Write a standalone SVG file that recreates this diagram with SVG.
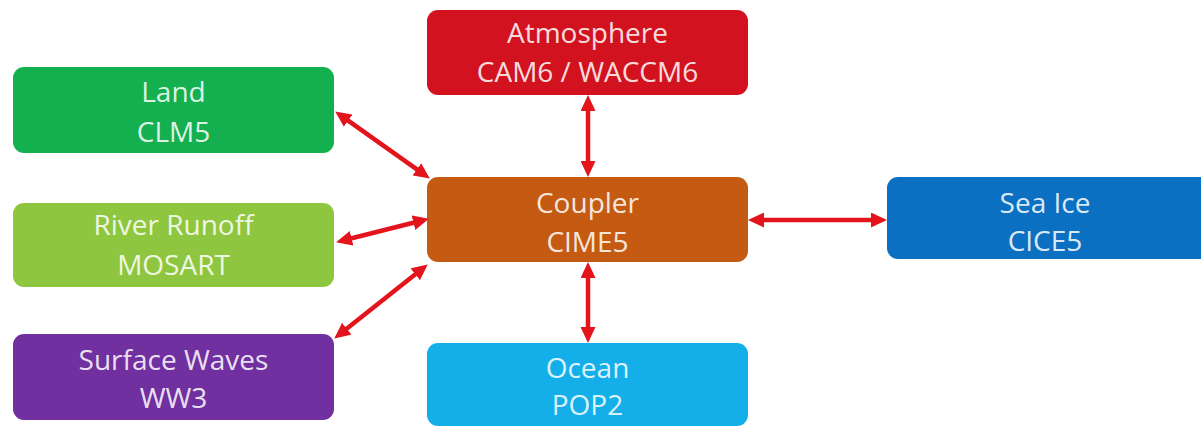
<svg xmlns="http://www.w3.org/2000/svg" width="1201" height="428" viewBox="0 0 1201 428">
<style>
.box{stroke:none}
.t{font-family:"Open Sans","Noto Sans","Liberation Sans",sans-serif;font-size:28px;font-weight:500;fill:#ffffff;fill-opacity:0.87;text-anchor:middle}
.conn{stroke:#e3141c;stroke-width:4.5;fill:none;marker-start:url(#ah);marker-end:url(#ah)}
</style>
<defs>
<marker id="ah" markerUnits="userSpaceOnUse" markerWidth="17" markerHeight="15" refX="7" refY="7.5" orient="auto-start-reverse" viewBox="0 0 17 15">
<path d="M0,0 L16,7.5 L0,15 z" fill="#e3141c"/>
</marker>
</defs>
<rect width="1201" height="428" fill="#ffffff"/>
<g id="atmosphere">
<rect class="box" x="427" y="10" width="321" height="85" rx="11" fill="#d2121f"/>
<text class="t" x="587.5" y="43">Atmosphere</text>
<text class="t" x="587.5" y="82">CAM6 / WACCM6</text>
</g>
<g id="land">
<rect class="box" x="13" y="67" width="321" height="86" rx="11" fill="#14b04f"/>
<text class="t" x="173.5" y="102">Land</text>
<text class="t" x="173.5" y="142">CLM5</text>
</g>
<g id="river">
<rect class="box" x="13" y="203" width="321" height="84" rx="11" fill="#8fc640"/>
<text class="t" x="173.5" y="235">River Runoff</text>
<text class="t" x="173.5" y="275">MOSART</text>
</g>
<g id="waves">
<rect class="box" x="13" y="334" width="321" height="86" rx="11" fill="#7130a0"/>
<text class="t" x="173.5" y="370">Surface Waves</text>
<text class="t" x="173.5" y="408">WW3</text>
</g>
<g id="coupler">
<rect class="box" x="427" y="177" width="321" height="85" rx="11" fill="#c55b12"/>
<text class="t" x="587.5" y="213">Coupler</text>
<text class="t" x="587.5" y="252">CIME5</text>
</g>
<g id="ocean">
<rect class="box" x="427" y="343" width="321" height="83" rx="11" fill="#14aee8"/>
<text class="t" x="587.5" y="378">Ocean</text>
<text class="t" x="587.5" y="415">POP2</text>
</g>
<g id="seaice">
<rect class="box" x="887" y="177" width="330" height="82" rx="11" fill="#0b6fc2"/>
<text class="t" x="1045" y="213">Sea Ice</text>
<text class="t" x="1045" y="251">CICE5</text>
</g>
<g id="connectors">
<line class="conn" x1="342.5" y1="116.6" x2="422.5" y2="173.4"/>
<line class="conn" x1="344.8" y1="240" x2="420.2" y2="221"/>
<line class="conn" x1="341.3" y1="333" x2="420.7" y2="270"/>
<line class="conn" x1="588" y1="104" x2="588" y2="168"/>
<line class="conn" x1="588" y1="271" x2="588" y2="334"/>
<line class="conn" x1="757" y1="220" x2="878" y2="220"/>
</g>
</svg>
